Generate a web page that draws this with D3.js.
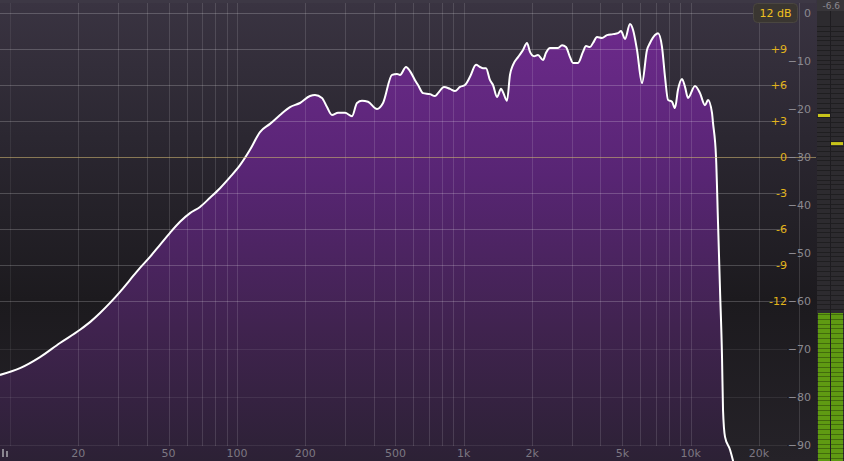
<!DOCTYPE html>
<html><head><meta charset="utf-8">
<script src="https://cdn.jsdelivr.net/npm/d3@7"></script>
<style>
html,body{margin:0;padding:0;background:#1d1b1f;overflow:hidden}
svg{display:block}
text{font-family:"DejaVu Sans",sans-serif}
</style></head>
<body>
<svg id="c" width="844" height="461"></svg>
<script>
// ---- data ----
const freqs = [9.03,11.07,13.56,16.61,20.35,22.52,24.93,27.59,30.54,33.80,37.40,41.40,45.82,50.72,56.13,62.13,68.77,76.10,84.24,93.24,103.2,114.2,126.4,139.9,154.9,171.4,189.7,210.0,220.9,237.1,249.5,262.5,279.0,299.5,321.6,338.3,355.9,378.3,414.6,440.6,482.6,507.7,523.4,556.3,579.4,609.5,628.4,661.1,709.7,746.6,769.6,818.1,869.4,914.5,962.2,1012,1065,1132,1179,1215,1253,1305,1345,1401,1459,1489,1550,1598,1648,1734,1824,1899,1958,2039,2123,2234,2303,2399,2523,2602,2709,2821,2938,3029,3186,3352,3456,3599,3710,3865,4065,4277,4546,4783,4931,5135,5401,5568,5800,6101,6418,6616,6962,7178,7475,7705,7943,8272,8526,8790,9155,9438,9730,10445,10990,11561,11921,12413,12540,12930,13196,13466,13742,13882,14166,14905,15367,16500];
const levels = [-75.4,-74.0,-71.7,-68.75,-66.0,-64.4,-62.5,-60.4,-58.1,-55.6,-53.1,-50.8,-48.3,-45.8,-43.5,-41.7,-40.4,-38.5,-36.5,-34.2,-31.7,-28.5,-24.8,-23.1,-21.25,-19.6,-18.75,-17.3,-17.1,-17.7,-19.6,-21.25,-20.8,-20.8,-21.5,-18.75,-18.3,-18.5,-20.0,-18.75,-12.9,-12.7,-12.9,-11.25,-12.1,-14.0,-15.0,-16.7,-16.9,-17.3,-16.7,-15.4,-15.8,-16.25,-15.4,-15.0,-13.3,-10.8,-11.25,-11.5,-11.5,-14.0,-15.0,-17.5,-15.8,-16.5,-18.3,-12.9,-10.8,-9.2,-7.7,-6.25,-8.1,-9.0,-8.75,-9.8,-8.3,-7.3,-7.3,-7.3,-6.7,-7.1,-9.2,-10.4,-10.4,-8.1,-6.9,-7.1,-6.25,-5.0,-5.2,-4.6,-4.4,-4.2,-3.75,-5.4,-2.3,-3.5,-7.7,-14.6,-7.7,-6.25,-4.6,-4.2,-7.1,-13.3,-18.1,-18.5,-19.8,-16.0,-13.75,-15.4,-17.7,-15.2,-16.7,-19.2,-18.1,-20.8,-22.9,-30,-43.75,-57.7,-71.7,-82.7,-88.3,-91,-93.3,-100];

const freqTicks = [20,50,100,200,500,1000,2000,5000,10000,20000];
const freqTickLabels = ["20","50","100","200","500","1k","2k","5k","10k","20k"];
const gridFreqs = [10,20,30,40,50,60,70,80,90,100,200,300,400,500,600,700,800,900,1000,2000,3000,4000,5000,6000,7000,8000,9000,10000,20000,30000];
const eqTicks = [12,9,6,3,0,-3,-6,-9,-12];
const eqTickLabels = ["","+9","+6","+3","0","-3","-6","-9","-12"];
const dbTicks = [0,-10,-20,-30,-40,-50,-60,-70,-80,-90];
const dbGridExtra = [-70,-80,-90];
const meterLevels = [-62.5,-62.5];   // L, R
const meterPeaks = [-21.25,-27.1];   // L, R peak hold
const meterReadout = "-6.6";
const rangeLabel = "12 dB";

// ---- scales ----
const W = 844, H = 461;
const x = d3.scaleLog().domain([10, 10000]).range([10, 10 + 226.9*3]);
const yDb = d3.scaleLinear().domain([0, -90]).range([13, 445]);
const yEq = d3.scaleLinear().domain([12, -12]).range([13, 301]);
const plotRight = 816;

const svg = d3.select("#c");
const defs = svg.append("defs");

const bg = defs.append("linearGradient").attr("id","bg").attr("x1",0).attr("y1",0).attr("x2",0).attr("y2",1);
bg.append("stop").attr("offset",0).attr("stop-color","#3a3442");
bg.append("stop").attr("offset",0.3).attr("stop-color","#2b2731");
bg.append("stop").attr("offset",0.65).attr("stop-color","#1c1a1e");
bg.append("stop").attr("offset",1).attr("stop-color","#252228");

const fg = defs.append("linearGradient").attr("id","fill").attr("gradientUnits","userSpaceOnUse")
  .attr("x1",0).attr("y1",20).attr("x2",0).attr("y2",461);
fg.append("stop").attr("offset",0).attr("stop-color","#6d2a8c");
fg.append("stop").attr("offset",0.35).attr("stop-color","#582574");
fg.append("stop").attr("offset",0.7).attr("stop-color","#40234f");
fg.append("stop").attr("offset",1).attr("stop-color","#2c2135");

defs.append("clipPath").attr("id","plotclip").append("rect").attr("x",0).attr("y",0).attr("width",plotRight).attr("height",H);

svg.append("rect").attr("width",W).attr("height",H).attr("fill","url(#bg)");
svg.append("rect").attr("width",plotRight).attr("height",3).attr("fill","#3d3845");

const data = freqs.map((f,i)=>({f, v: levels[i]}));
const plot = svg.append("g").attr("clip-path","url(#plotclip)");

const area = d3.area().x(d=>x(d.f)).y0(H+20).y1(d=>yDb(d.v)).curve(d3.curveMonotoneX);
const line = d3.line().x(d=>x(d.f)).y(d=>yDb(d.v)).curve(d3.curveMonotoneX);

plot.append("path").datum(data).attr("d",area).attr("fill","url(#fill)");

// grid
const grid = svg.append("g");
grid.selectAll("line.v").data(gridFreqs).join("line")
  .attr("x1",d=>Math.round(x(d))+0.5).attr("x2",d=>Math.round(x(d))+0.5)
  .attr("y1",3).attr("y2",446)
  .attr("stroke","#ffffff").attr("stroke-opacity",d=>d===10?0.07:0.13).attr("stroke-width",1);
grid.selectAll("line.h").data(eqTicks).join("line")
  .attr("x1",0).attr("x2",d=>d===0?plotRight:787)
  .attr("y1",d=>Math.round(yEq(d))+0.5).attr("y2",d=>Math.round(yEq(d))+0.5)
  .attr("stroke",d=>d===0?"#c8b070":"#ffffff")
  .attr("stroke-opacity",d=>d===0?0.6:0.2);
grid.selectAll("line.h2").data(dbGridExtra).join("line")
  .attr("x1",0).attr("x2",787)
  .attr("y1",d=>Math.round(yDb(d))+0.5).attr("y2",d=>Math.round(yDb(d))+0.5)
  .attr("stroke","#ffffff").attr("stroke-opacity",0.08);

plot.append("path").datum(data).attr("d",line).attr("fill","none")
  .attr("stroke","#ffffff").attr("stroke-width",2).attr("stroke-linejoin","round");

// labels
svg.append("g").selectAll("text").data(freqTicks).join("text")
  .attr("x",d=>x(d)).attr("y",457).attr("text-anchor","middle")
  .attr("font-size",11).attr("fill","#7c7782").text((d,i)=>freqTickLabels[i]);

svg.append("g").selectAll("text").data(eqTicks).join("text")
  .attr("x",787).attr("y",d=>yEq(d)+4).attr("text-anchor","end")
  .attr("font-size",11).attr("fill","#e2b41a").text((d,i)=>eqTickLabels[i]);

svg.append("g").selectAll("text").data(dbTicks).join("text")
  .attr("x",811).attr("y",d=>yDb(d)+4).attr("text-anchor","end")
  .attr("font-size",11).attr("fill","#8b8990").text(d=>d===0?"0":"\u2212"+Math.abs(d));

// range button
svg.append("rect").attr("x",753.5).attr("y",3.5).attr("width",44).attr("height",19).attr("rx",4)
  .attr("fill","#3a3631").attr("stroke","#4a4640");
svg.append("text").attr("x",775.5).attr("y",17).attr("text-anchor","middle")
  .attr("font-size",11).attr("fill","#f0c020").text(rangeLabel);

// icon bottom-left
svg.append("rect").attr("x",2).attr("y",449).attr("width",2).attr("height",8).attr("fill","#8a8690");
svg.append("rect").attr("x",6).attr("y",451).attr("width",2).attr("height",6).attr("fill","#8a8690");

// meter
const mx = 817, mw = 27;
const meter = svg.append("g");
meter.append("rect").attr("x",mx).attr("y",0).attr("width",mw).attr("height",H).attr("fill","#2d2b2f");
meter.append("rect").attr("x",mx).attr("y",0).attr("width",mw).attr("height",11).attr("fill","#38363a");
meter.append("text").attr("x",840).attr("y",9).attr("text-anchor","end").attr("font-size",9).attr("fill","#8b8990").text(meterReadout);
const chX = [818, 831];
meterLevels.forEach((lv,i)=>{
  meter.append("rect").attr("x",chX[i]).attr("y",yDb(lv)).attr("width",12).attr("height",H-yDb(lv)).attr("fill","#5f9a12");
});
const segs = d3.range(0, -100, -1);
meter.selectAll("line.seg").data(segs).join("line")
  .attr("x1",mx).attr("x2",W).attr("y1",d=>Math.round(yDb(d))+13.5).attr("y2",d=>Math.round(yDb(d))+13.5)
  .attr("stroke","#000").attr("stroke-opacity",0.3);
meter.append("line").attr("x1",830.5).attr("x2",830.5).attr("y1",11).attr("y2",H).attr("stroke","#1e1c20").attr("stroke-width",1);
meterPeaks.forEach((p,i)=>{
  meter.append("rect").attr("x",chX[i]).attr("y",yDb(p)-1).attr("width",12).attr("height",3).attr("fill","#c8c41a");
});
</script>
</body></html>
